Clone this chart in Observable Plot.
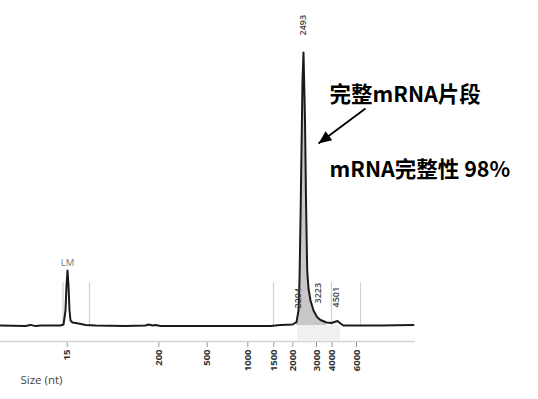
<!DOCTYPE html>
<html><head><meta charset="utf-8">
<script src="https://cdn.jsdelivr.net/npm/d3@7"></script>
<script src="https://cdn.jsdelivr.net/npm/@observablehq/plot@0.6"></script>
<style>
html,body{margin:0;padding:0;background:#fff;}
#chart{width:538px;height:399px;overflow:hidden;}
</style>
</head><body><div id="chart"></div>
<script>
// Electropherogram trace: migration time (s) vs fluorescence (FU)
const traceTime = [20, 22.5, 23, 23.5, 24, 26, 26.3, 26.5, 26.6, 26.7, 26.8, 26.9, 27, 27.2, 27.8, 28.5, 29.5, 32.5, 34.5, 34.8, 35.2, 35.5, 36, 40, 47, 48, 49.2, 49.6, 49.8, 49.9, 50.0, 50.1, 50.2, 50.3, 50.45, 50.55, 50.67, 50.8, 51.0, 51.3, 51.67, 52.0, 52.6, 53.1, 53.4, 53.7, 54.0, 54.3, 58, 61.3];
const traceSignal = [0, -0.2, 0.3, -0.3, 0, 0, 0.5, 7.5, 20, 27.5, 20, 7.5, 2.5, 1.5, 1, 0.3, 0, -0.2, 0, 0.5, 0, 0.3, -0.2, -0.2, -0.2, 0.3, 0.5, 1.65, 7.5, 22.5, 52.5, 87.5, 122.5, 136.5, 102.5, 62.5, 27.5, 18.5, 12.5, 7.5, 4.15, 2.75, 1.5, 1.25, 1.75, 2.25, 1, 0, 0, 0.3];

// Size ladder (nt) and its migration times
const ladderSizes = [15, 200, 500, 1000, 1500, 2000, 3000, 4000, 6000];
const ladderTimes = [26.67, 35.83, 40.67, 44.73, 47.33, 49.23, 51.6, 53.17, 55.6];

// Peak boundary markers
const boundaryTimes = [26.25, 28.9, 47.3, 53.1, 56.0];
const boundaryTop = 21.5;

// Peak size labels
const peakNames = ["2493", "2204", "3223", "4501"];
const peakTimes = [50.3, 49.75, 51.8, 53.55];
const peakLabelSignal = [145, 8.5, 11, 9];

// Lower marker
const markerName = ["LM"];
const markerTime = [26.7];
const markerSignal = [31.5];

// Main-peak integration window
const areaStart = 49.6, areaEnd = 52.6;
const shadeStarts = [49.7, 51.2];
const shadeEnds = [51.8, 54.0];

// Annotations
const noteTexts = ["完整mRNA片段", "mRNA完整性 98%"];
const noteTimes = [52.9, 52.9];
const noteSignals = [115, 77.5];
const arrowFrom = [56.5, 108.5];
const arrowTo = [51.8, 91];

const W = 538, H = 399, mL = 0, mR = 123, mT = 0, mB = 57;
const xDomain = [20, 61.5], yDomain = [-8.5, 162.5];

const trace = traceTime.map((t, i) => ({t, v: traceSignal[i]}));
const areaPts = trace.filter(d => d.t >= areaStart && d.t <= areaEnd);
const peaks = peakNames.map((n, i) => ({n, t: peakTimes[i], v: peakLabelSignal[i]}));
const notes = noteTexts.map((n, i) => ({n, t: noteTimes[i], v: noteSignals[i]}));
const shades = shadeStarts.map((s, i) => ({x1: s, x2: shadeEnds[i]}));

// arrow head direction in screen space, from the same scales
const sx = Plot.scale({x: {domain: xDomain, range: [mL, W - mR]}});
const sy = Plot.scale({y: {domain: yDomain, range: [H - mB, mT]}});
const ang = Math.atan2(sy.apply(arrowTo[1]) - sy.apply(arrowFrom[1]), sx.apply(arrowTo[0]) - sx.apply(arrowFrom[0])) * 180 / Math.PI;
const headSymbol = {draw(ctx) { ctx.moveTo(0, 0); ctx.lineTo(5.5, 13); ctx.lineTo(-5.5, 13); ctx.closePath(); }};

const plot = Plot.plot({
  width: W, height: H,
  marginLeft: mL, marginRight: mR, marginTop: mT, marginBottom: mB,
  x: {domain: xDomain},
  y: {domain: yDomain, axis: null},
  style: {fontFamily: "'Open Sans', 'DejaVu Sans', sans-serif", background: "#fff"},
  marks: [
    Plot.rectY(shades, {x1: "x1", x2: "x2", y1: -7.5, y2: 0, fill: "#f0f0f0"}),
    Plot.ruleX(boundaryTimes, {y1: 0, y2: boundaryTop, stroke: "#d0d0d0", strokeWidth: 1.2}),
    Plot.areaY(areaPts, {x: "t", y1: 0, y2: "v", fill: "#c8c8c8"}),
    Plot.line(trace, {x: "t", y: "v", stroke: "#1a1a1a", strokeWidth: 2, curve: "linear"}),
    Plot.ruleY([-8], {stroke: "#d4d4d4", strokeWidth: 1.5}),
    Plot.axisX({ticks: ladderTimes, tickFormat: (d) => String(ladderSizes[ladderTimes.indexOf(d)]), tickRotate: -90, tickSize: 5, tickPadding: 2, stroke: "#999", color: "#333", fontSize: 9.5, fontWeight: "bold", label: null}),
    Plot.text(["Size (nt)"], {frameAnchor: "bottom-left", dx: 20, dy: 41, textAnchor: "start", fill: "#444", fontSize: 11.5}),
    Plot.text(peaks, {x: "t", y: "v", text: "n", rotate: -90, textAnchor: "start", fill: "#444", fontSize: 9, fontWeight: 600}),
    Plot.text(markerName.map((n, i) => ({n, t: markerTime[i], v: markerSignal[i]})), {x: "t", y: "v", text: "n", fill: "#777", fontSize: 9.5}),
    Plot.link([{x1: arrowFrom[0], y1: arrowFrom[1], x2: arrowTo[0], y2: arrowTo[1]}], {x1: "x1", y1: "y1", x2: "x2", y2: "y2", stroke: "#000", strokeWidth: 1.8}),
    Plot.dot([{x: arrowTo[0], y: arrowTo[1]}], {x: "x", y: "y", symbol: headSymbol, rotate: ang + 90, fill: "#000", stroke: "none", r: 6}),
    Plot.text(notes, {x: "t", y: "v", text: "n", textAnchor: "start", fill: "#000", fontSize: 21.5, fontWeight: "bold", fontFamily: "'Noto Sans CJK SC', sans-serif"})
  ]
});
document.getElementById("chart").appendChild(plot);
</script>
</body></html>
